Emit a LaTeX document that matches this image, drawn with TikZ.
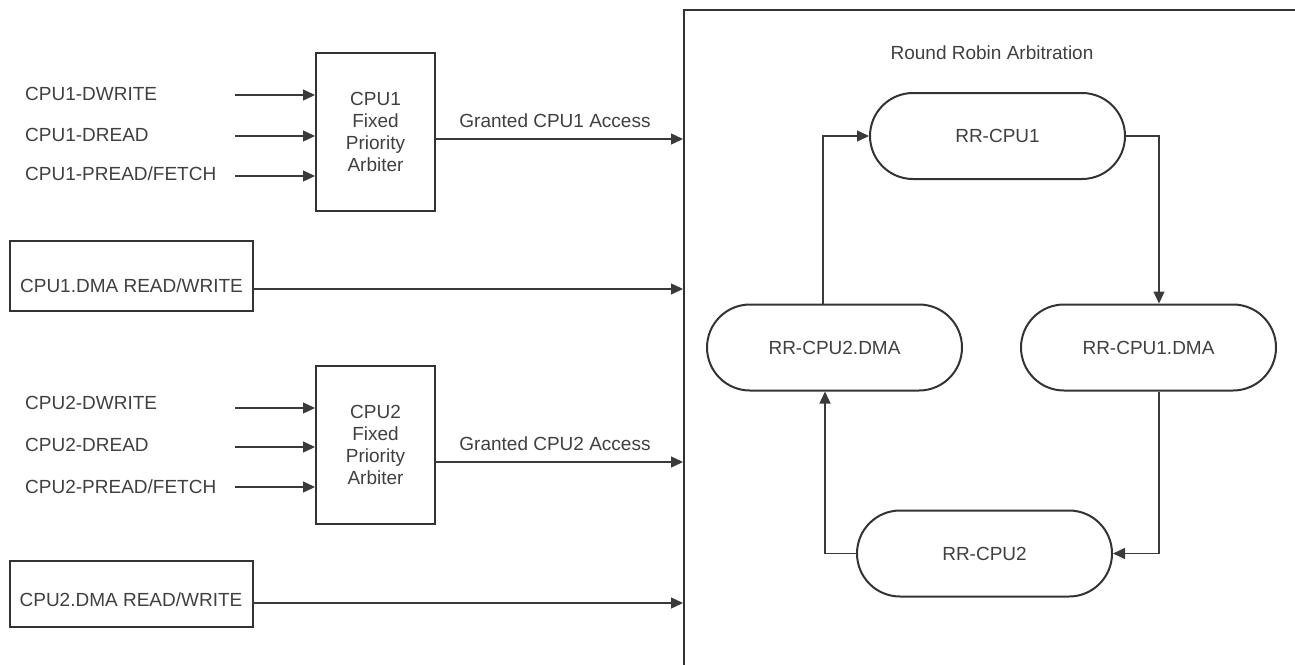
\documentclass[tikz,border=0pt]{standalone}
\usepackage{fontspec}
\setmainfont{Liberation Sans}
\usetikzlibrary{arrows.meta}
\definecolor{txt}{HTML}{404040}
\definecolor{ln}{HTML}{333333}
\definecolor{cn}{HTML}{3A3A3A}
\begin{document}
\begin{tikzpicture}[x=1pt,y=-1pt, font=\fontsize{19}{21.7}\selectfont,
  box/.style={draw=ln, line width=2pt, fill=white, text=txt, align=center, inner sep=0pt},
  pill/.style={box, rounded corners=43pt, minimum width=255pt, minimum height=86pt},
  dmabox/.style={box, minimum width=243pt, minimum height=70pt, text height=36pt, text depth=4pt},
  arbox/.style={box, minimum width=119pt, minimum height=158pt},
  arr/.style={draw=cn, line width=1.3pt, -{Triangle[length=12pt,width=11pt]}},
  lbl/.style={text=txt, inner sep=0pt, anchor=base west},
  clbl/.style={text=txt, inner sep=0pt, anchor=base}]
\useasboundingbox (0,0) rectangle (1295,664);
\clip (0,0) rectangle (1295,664);
\fill[white] (0,0) rectangle (1295,664);

% big round-robin frame (clipped on right and bottom)
\node[draw=ln, line width=2pt, minimum width=800pt, minimum height=800pt,
      anchor=north west, inner sep=0pt] (rr) at (683,9) {};
\node[clbl] (title) at (992,59) {Round Robin Arbitration};

% CPU1 arbiter
\node[arbox] (arb1) at (375.5,132) {CPU1\\Fixed\\Priority\\Arbiter};
\node[lbl] (l11) at (25,100) {CPU1-DWRITE};
\node[lbl] (l12) at (25,141) {CPU1-DREAD};
\node[lbl] (l13) at (25,180) {CPU1-PREAD/FETCH};
\coordinate (s11) at (235,95);
\coordinate (s12) at (235,136);
\coordinate (s13) at (235,176);
\draw[arr] (s11) -- (s11 -| arb1.west);
\draw[arr] (s12) -- (s12 -| arb1.west);
\draw[arr] (s13) -- (s13 -| arb1.west);
\coordinate (g1) at (435,139);
\draw[arr] (g1) -- (g1 -| rr.west);
\node[clbl] (gl1) at (555,127) {Granted CPU1 Access};

% CPU1 DMA
\node[dmabox] (dma1) at (131.5,276) {CPU1.DMA READ/WRITE};
\coordinate (d1) at (253,289);
\draw[arr] (d1) -- (d1 -| rr.west);

% CPU2 arbiter
\node[arbox] (arb2) at (375.5,445) {CPU2\\Fixed\\Priority\\Arbiter};
\node[lbl] (l21) at (25,409) {CPU2-DWRITE};
\node[lbl] (l22) at (25,451) {CPU2-DREAD};
\node[lbl] (l23) at (25,493) {CPU2-PREAD/FETCH};
\coordinate (s21) at (235,408);
\coordinate (s22) at (235,447);
\coordinate (s23) at (235,487);
\draw[arr] (s21) -- (s21 -| arb2.west);
\draw[arr] (s22) -- (s22 -| arb2.west);
\draw[arr] (s23) -- (s23 -| arb2.west);
\coordinate (g2) at (435,462);
\draw[arr] (g2) -- (g2 -| rr.west);
\node[clbl] (gl2) at (555,450) {Granted CPU2 Access};

% CPU2 DMA
\node[dmabox, minimum height=66pt, text height=28.6pt] (dma2) at (131,594) {CPU2.DMA READ/WRITE};
\coordinate (d2) at (252,603);
\draw[arr] (d2) -- (d2 -| rr.west);

% round robin ring
\node[pill] (rr1) at (997.5,136) {RR-CPU1};
\node[pill] (rr2dma) at (834.5,347.5) {RR-CPU2.DMA};
\node[pill] (rr1dma) at (1148.5,347.5) {RR-CPU1.DMA};
\node[pill] (rr2) at (984.5,553.5) {RR-CPU2};

\draw[arr] (rr2dma.north -| 823,0) |- (rr1.west);
\draw[arr] (rr1.east) -| (rr1dma.north -| 1159,0);
\draw[arr] (rr1dma.south -| 1159,0) |- (rr2.east);
\draw[arr] (rr2.west) -| (rr2dma.south -| 825,0);
\end{tikzpicture}
\end{document}
